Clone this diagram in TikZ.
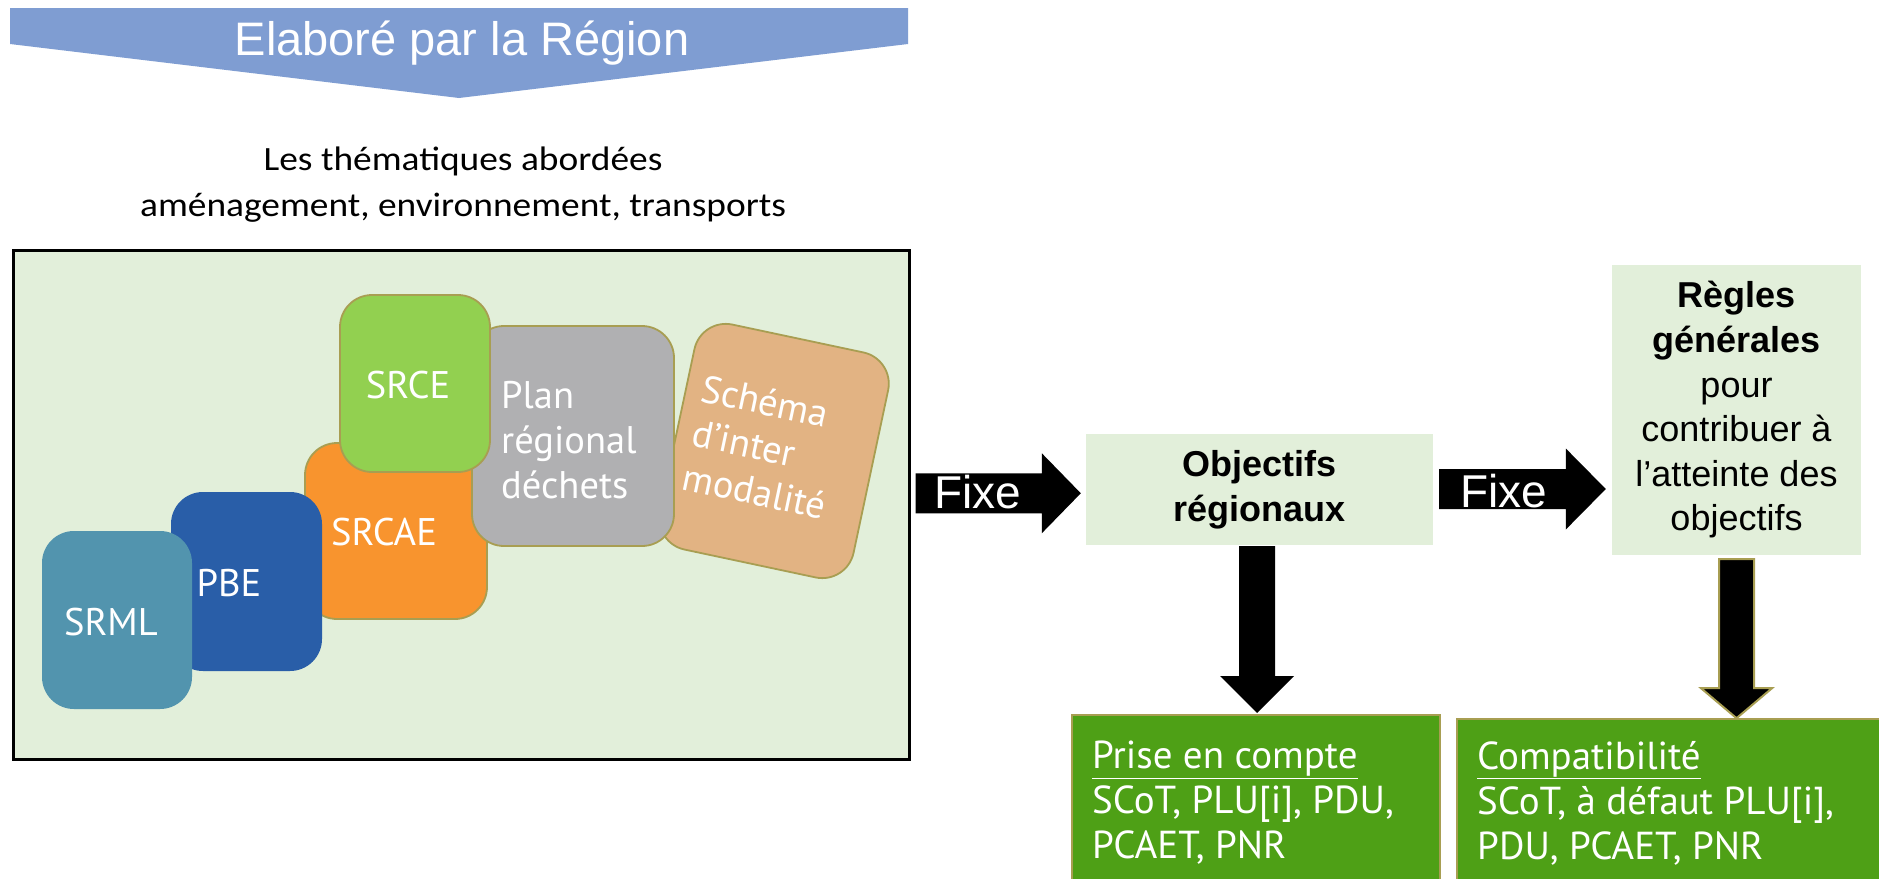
\documentclass[tikz,border=0pt]{standalone}
\usepackage{fontspec}
\setmainfont{Liberation Sans}
\newfontfamily\shapefont{PT Sans}
\newfontfamily\calfont[FakeStretch=1.1]{Carlito}
\usetikzlibrary{calc}
\definecolor{bannerblue}{RGB}{127,157,210}
\definecolor{palegreen}{RGB}{226,239,218}
\definecolor{srmlc}{RGB}{82,148,174}
\definecolor{pbec}{RGB}{41,94,168}
\definecolor{srcaec}{RGB}{248,148,46}
\definecolor{srcec}{RGB}{146,208,80}
\definecolor{planc}{RGB}{176,176,178}
\definecolor{schemac}{RGB}{226,179,131}
\definecolor{olivebd}{RGB}{168,158,82}
\definecolor{leafgreen}{RGB}{78,160,22}
\newcommand{\blockright}[6]{%
  \path[#6] let \p1=(#1), \p2=(#2) in
    (\x1,\y1+#3) -- (\x2-#5,\y1+#3) -- (\x2-#5,\y1+#4) -- (\x2,\y1)
    -- (\x2-#5,\y1-#4) -- (\x2-#5,\y1-#3) -- (\x1,\y1-#3) -- cycle;}
\newcommand{\blockdown}[6]{%
  \path[#6] let \p1=(#1), \p2=(#2) in
    (\x1-#3,\y1) -- (\x1-#3,\y2+#5) -- (\x1-#4,\y2+#5) -- (\x1,\y2)
    -- (\x1+#4,\y2+#5) -- (\x1+#3,\y2+#5) -- (\x1+#3,\y1) -- cycle;}
\begin{document}
\begin{tikzpicture}[x=1pt,y=-1pt,
  tile/.style={rectangle, rounded corners=32pt, inner sep=0pt},
  tileline/.style={draw=olivebd, line width=1.8pt},
  tiletext/.style={text=white, font=\shapefont\fontsize{38.5}{45}\selectfont, inner sep=0pt},
  bigtext/.style={text=white, font=\fontsize{47}{56}\selectfont, inner sep=0pt},
  fixetext/.style={text=white, font=\fontsize{46}{50}\selectfont, inner sep=0pt},
  palebox/.style={rectangle, fill=palegreen, inner sep=0pt, font=\fontsize{36}{44.6}\selectfont, align=center},
  greenbox/.style={rectangle, fill=leafgreen, draw=olivebd, line width=2pt, inner sep=0pt},
  greentext/.style={text=white, font=\shapefont\fontsize{39}{45}\selectfont, inner sep=0pt, align=left},
  slanttext/.style={tiletext, rotate=-12, anchor=base west},
]
\clip (0,0) rectangle (1879,878);
\fill[white] (0,0) rectangle (1879,878);

% banner
\fill[bannerblue] (10,8) -- (908,8) -- (908,44) -- (459,98) -- (10,44) -- cycle;
\node[bigtext, anchor=base] (banner) at (462,55) {Elaboré par la Région};

% themes
\node[font=\calfont\fontsize{34}{46}\selectfont, align=center, inner sep=0pt] (theme) at (463,185)
  {Les thématiques abordées\\aménagement, environnement, transports};

% frame
\node[draw=black, line width=2.5pt, fill=palegreen, minimum width=896pt, minimum height=509pt,
  inner sep=0pt, anchor=north west] (frame) at (12,249) {};

% tiles (back to front)
\node[tile, tileline, fill=schemac, rotate=-12, minimum width=198pt, minimum height=230pt] (schema) at (774,451) {};
\node[slanttext] (schema1) at (699,401) {Schéma};
\node[slanttext] (schema2) at (690,445) {d’inter};
\node[slanttext] (schema3) at (680.5,489) {modalité};
\node[tile, tileline, fill=srcaec, minimum width=182pt, minimum height=176pt] (srcae) at (396,531) {};
\node[tile, tileline, fill=planc, minimum width=202pt, minimum height=220pt] (plan) at (573,436) {};
\node[tiletext, align=left, anchor=west] (plantxt) at (501,440) {Plan\\régional\\déchets};
\node[tile, tileline, fill=srcec, minimum width=150pt, minimum height=177pt] (srce) at (415,383.5) {};
\node[tile, fill=pbec, minimum width=151pt, minimum height=179pt] (pbe) at (246.5,581.5) {};
\node[tile, fill=srmlc, minimum width=150pt, minimum height=178pt] (srml) at (117,620) {};
\node[tiletext] (srcetxt) at (408,385) {SRCE};
\node[tiletext] (srcaetxt) at (384,532) {SRCAE};
\node[tiletext] (pbetxt) at (229,583) {PBE};
\node[tiletext] (srmltxt) at (111,622) {SRML};

% right boxes
\node[palebox, minimum width=347pt, minimum height=111pt] (obj) at (1259.5,489.5)
  {\textbf{Objectifs}\\\textbf{régionaux}};
\node[palebox, minimum width=249pt, minimum height=290pt] (regles) at (1736.5,410)
  {\textbf{Règles}\\\textbf{générales}\\pour\\contribuer à\\l’atteinte des\\objectifs};

% green boxes
\node[greenbox, anchor=north west, minimum width=368pt, minimum height=200pt] (prise) at (1071,714) {};
\node[greenbox, anchor=north west, minimum width=450pt, minimum height=200pt] (compat) at (1456,718) {};
\node[greentext, anchor=north west] (prisetxt) at (1092,741)
  {\underline{Prise en compte}\\SCoT, PLU[i], PDU,\\PCAET, PNR};
\node[greentext, anchor=north west] (compattxt) at (1477,741)
  {\underline{Compatibilité}\\SCoT, à défaut PLU[i],\\PDU, PCAET, PNR};

% arrows
\coordinate (a1s) at ($(frame.east)+(5,-11.5)$);
\coordinate (a1e) at ($(obj.west)+(-5,2.5)$);
\blockright{a1s}{a1e}{20}{40}{39}{fill=black}
\node[fixetext, anchor=base] (fixe1) at (978,508) {Fixe};

\coordinate (a2s) at ($(obj.east)+(6,-0.5)$);
\coordinate (a2e) at ($(regles.west)+(-6,79)$);
\blockright{a2s}{a2e}{20}{40.5}{40}{fill=black}
\node[fixetext, anchor=base] (fixe2) at (1504,507) {Fixe};

\coordinate (d1s) at ($(obj.south)+(-2.5,1)$);
\coordinate (d1e) at ($(prise.north)+(1.5,-1)$);
\blockdown{d1s}{d1e}{18}{37}{37}{fill=black}

\coordinate (d2s) at ($(regles.south)+(0,4)$);
\coordinate (d2e) at ($(regles.south)+(0,163)$);
\blockdown{d2s}{d2e}{17.5}{35.5}{30}{fill=black, draw=olivebd, line width=2pt}
\end{tikzpicture}
\end{document}
